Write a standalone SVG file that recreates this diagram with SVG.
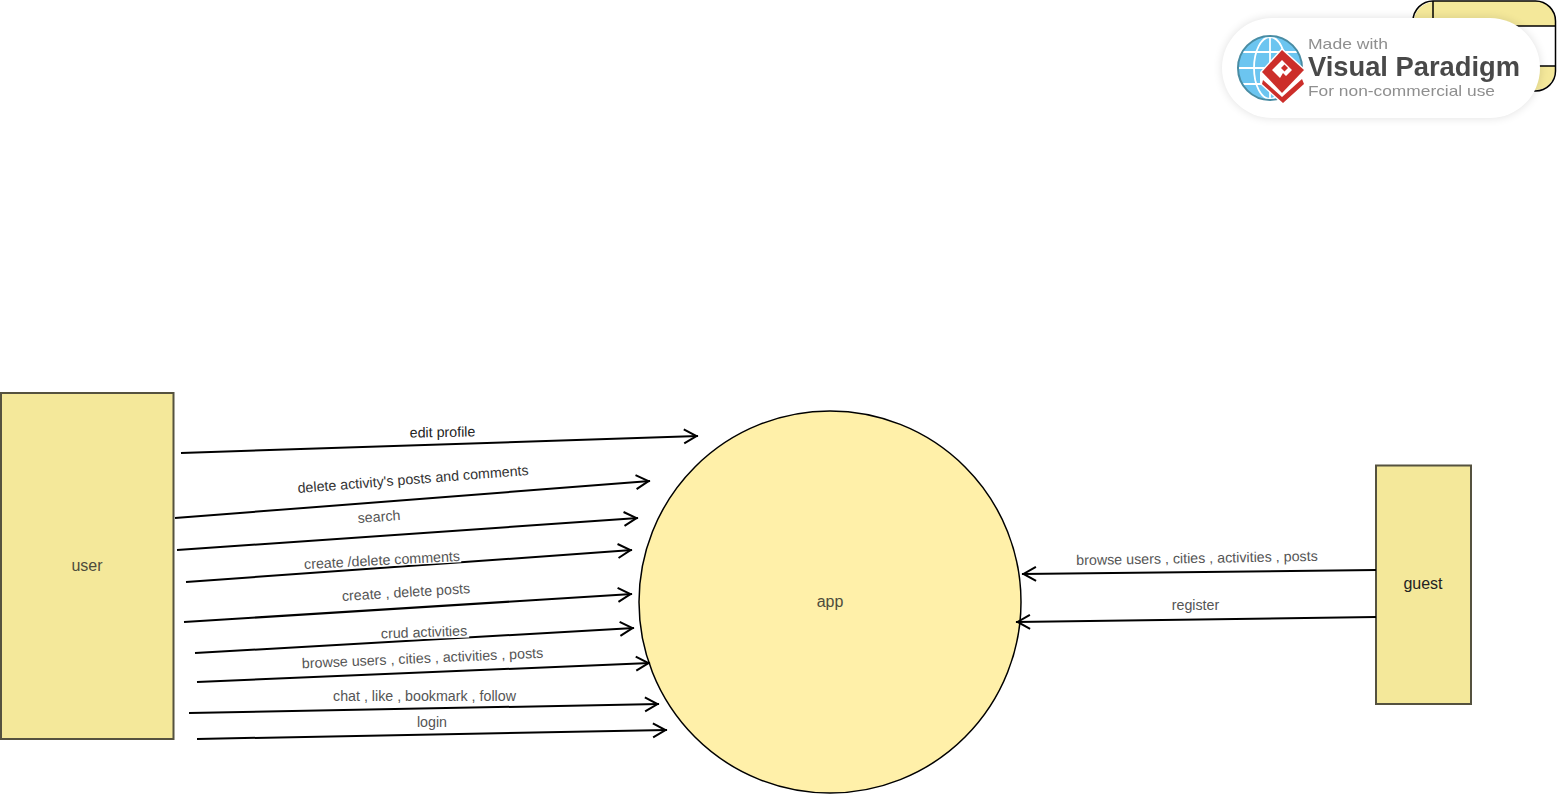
<svg xmlns="http://www.w3.org/2000/svg" width="1557" height="795" viewBox="0 0 1557 795">
<style>
text{font-family:"Liberation Sans",Arial,sans-serif;font-size:14.25px;fill:#555;text-anchor:middle}
.ent{fill:#f4e89a;stroke:#55523f;stroke-width:2}
.n{font-size:16px;fill:#4d4c3c}
.c{stroke:#000;stroke-width:2;fill:none;marker-end:url(#a)}
.bg{fill:#fff}
.w{fill:#8f8f8f;text-anchor:start;font-size:15px}
</style>
<defs>
<marker id="a" markerUnits="userSpaceOnUse" markerWidth="18" markerHeight="18" refX="15.500" refY="7.500" orient="auto" overflow="visible"><path d="M1.500 0.500L14 7.500L1.500 14.500" fill="none" stroke="#000" stroke-width="2"/></marker>
<filter id="sh" x="-10%" y="-30%" width="120%" height="160%"><feGaussianBlur stdDeviation="5"/></filter>
<filter id="soft" x="-5%" y="-5%" width="110%" height="110%"><feGaussianBlur stdDeviation="0.5"/></filter>
<clipPath id="gc"><circle cx="1270" cy="68" r="31"/></clipPath>
</defs>
<g id="node-table">
<path d="M1433 1H1536A20 20 0 0 1 1555 21V26H1414V21A20 20 0 0 1 1433 2Z" fill="#f4e89a"/>
<path d="M1414 66H1555V71A20 20 0 0 1 1536 90H1433A20 20 0 0 1 1414 71Z" fill="#f4e89a"/>
<rect x="1413" y="1" width="142.500" height="90" rx="20" fill="none" stroke="#000" stroke-width="1.500"/>
<path d="M1433 1V91M1413 26H1556M1413 66H1556" stroke="#000" stroke-width="1.500" fill="none"/>
</g>
<g id="node-user"><rect class="ent" x="1" y="393" width="172.500" height="346"/><text class="n" x="87" y="570.500">user</text></g>
<g id="node-app"><circle cx="830" cy="602" r="191" fill="#fff0a9" stroke="#000" stroke-width="1.500"/><text class="n" x="830" y="607">app</text></g>
<g id="node-guest"><rect class="ent" x="1376" y="465.500" width="95" height="238.500"/><text class="n" x="1423" y="589" style="fill:#222">guest</text></g>
<g id="connectors">
<path class="c" d="M181 453L698 436"/>
<path class="c" d="M175 518L650 481"/>
<path class="c" d="M177 550L638 518"/>
<path class="c" d="M186 582L632 550"/>
<path class="c" d="M184 622L632 594"/>
<path class="c" d="M195 653L634 628"/>
<path class="c" d="M197 682L650 663"/>
<path class="c" d="M189 713L659 704"/>
<path class="c" d="M197 739L667 730"/>
<path class="c" d="M1376 570L1022 574"/>
<path class="c" d="M1376 617L1016 622"/>
</g>
<g id="labels">
<text x="442.500" y="437" transform="rotate(-1 442.500 432)" style="fill:#222">edit profile</text>
<text x="413" y="484" transform="rotate(-4.500 413 479)" style="fill:#333">delete activity's posts and comments</text>
<text x="379" y="521.500" transform="rotate(-4 379 517)">search</text>
<rect class="bg" x="303" y="552" width="158" height="14.500" transform="rotate(-3 382 559)"/>
<text x="382" y="565" transform="rotate(-3 382 560)">create /delete comments</text>
<text x="406" y="597" transform="rotate(-3.500 406 592)">create , delete posts</text>
<rect class="bg" x="380" y="625" width="89" height="14" transform="rotate(-2 424 632)"/>
<text x="424" y="637" transform="rotate(-2 424 632)">crud activities</text>
<text x="422.500" y="663" transform="rotate(-2.500 422.500 658)">browse users , cities , activities , posts</text>
<text x="424.500" y="701">chat , like , bookmark , follow</text>
<text x="432" y="727">login</text>
<text x="1197" y="563" transform="rotate(-1 1197 558)">browse users , cities , activities , posts</text>
<text x="1195.500" y="610">register</text>
</g>
<g id="watermark">
<rect x="1222" y="18" width="318" height="100" rx="50" fill="#000" opacity="0.12" filter="url(#sh)"/>
<rect x="1222" y="18" width="318" height="100" rx="50" fill="#fff"/>
<g filter="url(#soft)">
<circle cx="1270" cy="68" r="32" fill="#6cc5f0" stroke="#4a8ca3" stroke-width="2"/>
<g clip-path="url(#gc)" fill="none" stroke="#fff" stroke-width="1.800">
<ellipse cx="1270" cy="68" rx="16" ry="31"/><path d="M1270 37V99M1239 68H1301M1242 52H1298M1242 84H1298"/>
</g>
<path d="M1260 72L1282 48L1306 70L1306 84L1283 105L1260 84Z" fill="#fff"/>
<path d="M1263 80L1282 97L1302 79L1304 84L1283 103L1262 84Z" fill="#cc2f2b"/>
<path d="M1262 72L1282 50L1304 70L1282 93Z" fill="#cc2f2b"/>
<path d="M1272 70L1282 60L1292 70L1286 76L1283 73L1280 78Z" fill="#fff"/>
<path d="M1281 68L1284.500 64.500L1288 68L1284.500 71.500Z" fill="#cc2f2b"/>
<text class="w" x="1308" y="49" textLength="80" lengthAdjust="spacingAndGlyphs">Made with</text>
<text class="w" x="1308" y="76" style="font-size:27px;font-weight:700;fill:#4a4a4a" textLength="212" lengthAdjust="spacingAndGlyphs">Visual Paradigm</text>
<text class="w" x="1308" y="96" textLength="187" lengthAdjust="spacingAndGlyphs">For non-commercial use</text>
</g>
</g>
</svg>
